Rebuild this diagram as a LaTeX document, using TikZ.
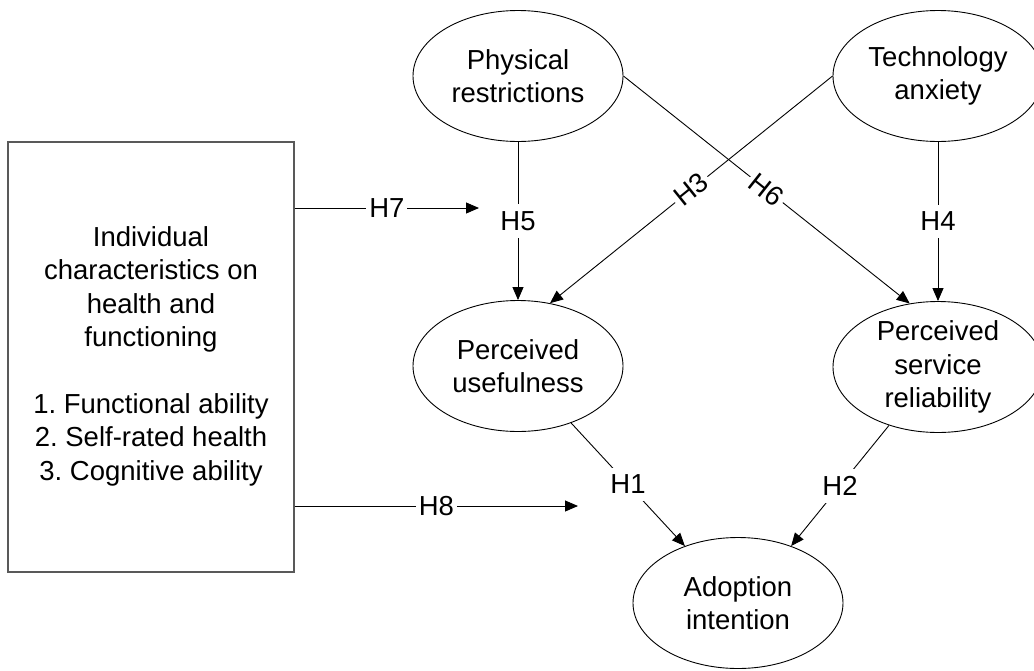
\documentclass[tikz,border=0pt]{standalone}
\usepackage{fontspec}
\setmainfont{Liberation Sans}
\usetikzlibrary{shapes.geometric,arrows.meta}
\frenchspacing
\begin{document}
\begin{tikzpicture}[x=1pt,y=-1pt,
  ell/.style={draw=black, line width=0.9pt, ellipse, minimum width=210pt, minimum height=131pt, inner sep=0pt},
  txt/.style={align=center, font=\fontsize{27.5}{33.4}\selectfont, inner sep=0pt},
  hlab/.style={fill=white, inner xsep=3pt, inner ysep=7.5pt, font=\fontsize{27.5}{33}\selectfont},
  conn/.style={draw=black, line width=0.9pt},
  arr/.style={conn, -{Triangle[length=13pt,width=11pt]}},
  box/.style={draw=black!65, line width=1.3pt, minimum width=286pt, minimum height=430pt, inner sep=0pt}
]
\useasboundingbox (0,0) rectangle (1034,670);

% ellipses
\node[ell] (PR)  at (518,76)  {};
\node[ell] (TA)  at (938,76)  {};
\node[ell] (PU)  at (518,366) {};
\node[ell] (PSR) at (938,367) {};
\node[ell] (AI)  at (738,603) {};

\node[txt] (PRt)  at (PR)  {Physical\\restrictions};
\node[txt] (TAt)  at (TA)  {Technology\\anxiety};
\node[txt] (PUt)  at (PU)  {Perceived\\usefulness};
\node[txt] (PSRt) at (PSR) {Perceived\\service\\reliability};
\node[txt] (AIt)  at (AI)  {Adoption\\intention};

% box
\node[box] (BOX) at (151,357) {};
\node[txt] (BOXt) at (151,356) {Individual\\characteristics on\\health and\\functioning\\[33.4pt]1. Functional ability\\2. Self-rated health\\3. Cognitive ability};

% free ends
\coordinate (h7e) at (479,208);
\coordinate (h8e) at (578,506);

% connectors
\draw[arr] (BOX.east |- h7e) -- node[hlab]{H7} (h7e);
\draw[arr] (BOX.east |- h8e) -- node[hlab]{H8} (h8e);
\draw[arr] (PR.south) -- node[hlab]{H5} (PU.north);
\draw[arr] (TA.south) -- node[hlab]{H4} (PSR.north);
\draw[arr] (TA.west) -- node[hlab, sloped]{H3} (PU.63);
\draw[arr] (PR.east) -- node[hlab, sloped]{H6} (PSR.114);
\draw[arr] (PU.-47) -- node[hlab]{H1} (AI.133);
\draw[arr] (PSR.230) -- node[hlab]{H2} (AI.47);
\end{tikzpicture}
\end{document}
